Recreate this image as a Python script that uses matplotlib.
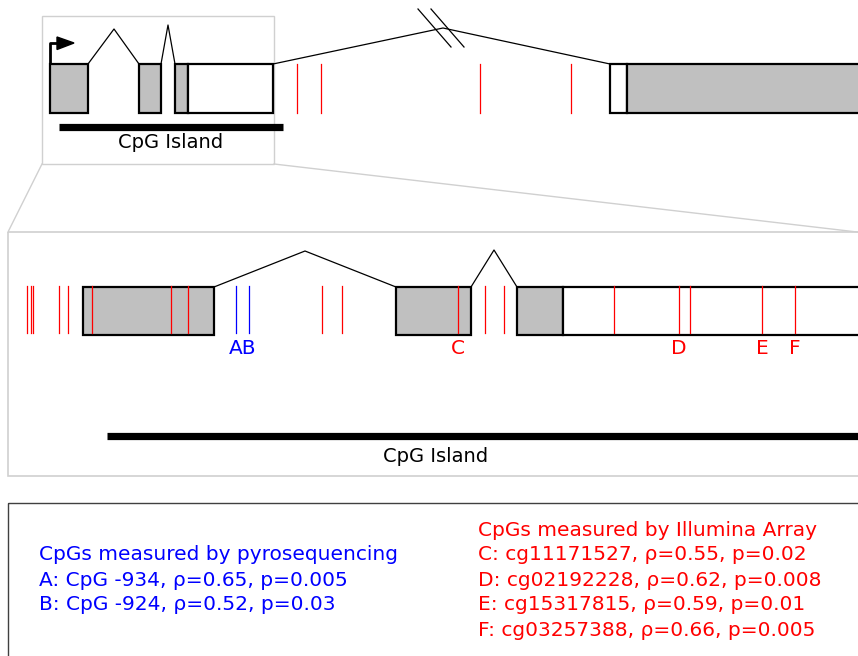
import matplotlib
matplotlib.use("Agg")
import matplotlib.pyplot as plt
from matplotlib.patches import Rectangle, Polygon

# ---------------- data (diagram units = pixel coords of the drawing) ----------------
# Overview gene track
top_exons_fill = [(50, 88, "#c0c0c0"), (139, 161, "#c0c0c0"), (175, 188, "#c0c0c0"),
                  (188, 273, "white"), (610, 627, "white"), (627, 870, "#c0c0c0")]
top_introns = [(88, 114, 139, 29), (161, 168, 175, 25), (273, 443, 610, 28)]
top_cpg_x = [297, 321, 480, 571]
top_island = (59, 283)

# Zoomed gene track
zoom_exons_fill = [(83, 214, "#c0c0c0"), (396, 471, "#c0c0c0"), (517, 563, "#c0c0c0"),
                   (563, 870, "white")]
zoom_introns = [(214, 305, 396, 251), (471, 494, 517, 250)]
zoom_red_cpg_x = [26.5, 31, 32.5, 58.5, 67.5, 92, 171, 188, 322, 342, 458, 485, 504,
                  614, 679, 690, 762, 795]
zoom_blue_cpg_x = [235.5, 249]
zoom_island = (107, 870)

marker_labels = ["AB", "C", "D", "E", "F"]
marker_label_x = [243, 458, 679, 762, 795]
marker_label_colors = ["blue", "red", "red", "red", "red"]

pyro_title = "CpGs measured by pyrosequencing"
pyro_lines = ["A: CpG -934, \u03c1=0.65, p=0.005",
              "B: CpG -924, \u03c1=0.52, p=0.03"]
array_title = "CpGs measured by Illumina Array"
array_lines = ["C: cg11171527, \u03c1=0.55, p=0.02",
               "D: cg02192228, \u03c1=0.62, p=0.008",
               "E: cg15317815, \u03c1=0.59, p=0.01",
               "F: cg03257388, \u03c1=0.66, p=0.005"]

# ---------------- drawing ----------------
W, H = 858, 656
fig = plt.figure(figsize=(W / 100, H / 100), dpi=100)
ax = fig.add_axes([0, 0, 1, 1])
ax.set_xlim(0, W)
ax.set_ylim(H, 0)
ax.axis("off")

FRAME = "#d0d0d0"
FS = 14.5
FS_ISL = 14

# Top zoom frame and connecting lines
ax.add_patch(Rectangle((42, 16), 232, 148, fill=False, ec=FRAME, lw=1.0))
ax.plot([42, 8], [164, 232], color=FRAME, lw=1.0)
ax.plot([274, 870], [164, 233.5], color=FRAME, lw=1.0)
# Middle panel frame
ax.add_patch(Rectangle((8, 232), 880, 244, fill=False, ec=FRAME, lw=1.2))
# Bottom legend frame
ax.add_patch(Rectangle((8, 503), 880, 200, fill=False, ec="#404040", lw=1.0))


def draw_track(exons, introns, y0, y1):
    for x0, x1, c in exons:
        ax.add_patch(Rectangle((x0, y0), x1 - x0, y1 - y0, fc=c, ec="black", lw=1.6, zorder=2))
    for a, peak, b, py in introns:
        ax.plot([a, peak, b], [y0, py, y0], color="black", lw=0.9, zorder=2)


# Overview track
ty0, ty1 = 64, 113
draw_track(top_exons_fill, top_introns, ty0, ty1)
for x in top_cpg_x:
    ax.plot([x, x], [ty0, ty1], color="red", lw=0.9, zorder=3)
ax.plot([top_island[0], top_island[1]], [126.5, 126.5], color="black", lw=5.2,
        solid_capstyle="butt", zorder=3)
ax.text(171, 143, "CpG Island", ha="center", va="center",
        fontsize=FS_ISL, color="black")
# transcription start arrow
ax.plot([50, 50, 60], [64, 43, 43], color="black", lw=2.0, solid_capstyle="butt", zorder=3)
ax.add_patch(Polygon([(57, 37), (74, 43), (57, 49.5)], closed=True, fc="black", ec="black", zorder=3))
# break marks on long intron
ax.plot([418, 451], [9, 47], color="black", lw=0.9)
ax.plot([431, 464], [9, 47], color="black", lw=0.9)

# Zoomed track
zy0, zy1 = 287, 335
draw_track(zoom_exons_fill, zoom_introns, zy0, zy1)
for x in zoom_red_cpg_x:
    ax.plot([x, x], [286, 333], color="red", lw=0.9, zorder=3)
for x in zoom_blue_cpg_x:
    ax.plot([x, x], [286, 333], color="blue", lw=0.9, zorder=3)
for lab, x, c in zip(marker_labels, marker_label_x, marker_label_colors):
    ax.text(x, 349, lab, ha="center", va="center", fontsize=FS, color=c)
ax.plot([zoom_island[0], zoom_island[1]], [435.5, 435.5], color="black", lw=5.2,
        solid_capstyle="butt", zorder=3)
ax.text(435.5, 457, "CpG Island", ha="center", va="center", fontsize=FS_ISL, color="black")

# Legend texts
ax.text(39, 555, pyro_title, ha="left", va="center", fontsize=FS, color="blue")
for i, s in enumerate(pyro_lines):
    ax.text(39, 580 + 25 * i, s, ha="left", va="center", fontsize=FS, color="blue")
ax.text(478, 530, array_title, ha="left", va="center", fontsize=FS, color="red")
for i, s in enumerate(array_lines):
    ax.text(478, 555 + 25 * i, s, ha="left", va="center", fontsize=FS, color="red")

fig.savefig("out.png", dpi=100)
